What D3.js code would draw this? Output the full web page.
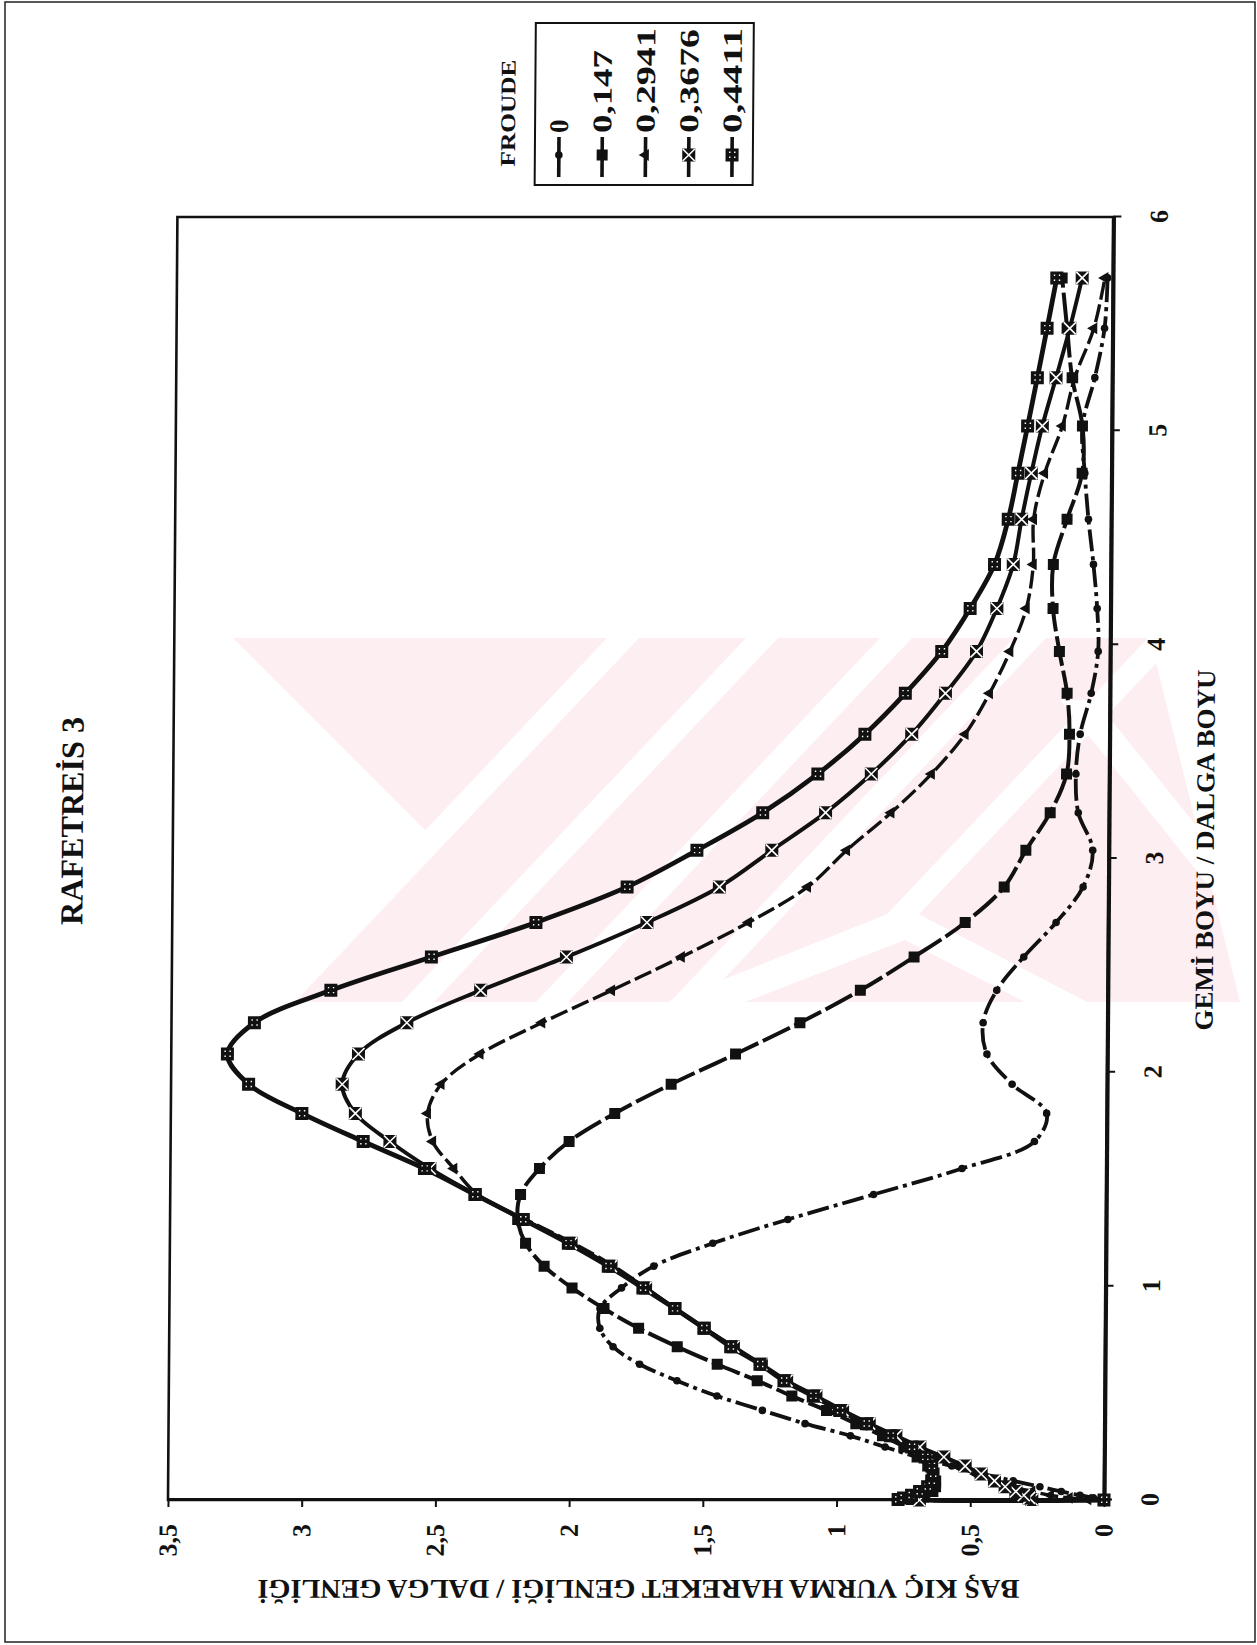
<!DOCTYPE html>
<html>
<head>
<meta charset="utf-8">
<script src="https://cdn.jsdelivr.net/npm/d3@7"></script>
<style>
  body { margin: 0; background: #fff; }
  svg { display: block; }
  text { font-family: "Liberation Serif", "Times New Roman", serif; fill: #111; }
</style>
</head>
<body>
<svg id="chart" width="1257" height="1645"></svg>
<script>

/**
* DATA
*/
// GEMİ BOYU / DALGA BOYU (marker positions)
var lambdaRatio = [0, 0.0025, 0.0099, 0.0223, 0.0397, 0.062, 0.0893, 0.1215, 0.1587, 0.2009,
  0.248, 0.3001, 0.3571, 0.4191, 0.4861, 0.558, 0.6349, 0.7167, 0.8035, 0.8953,
  0.992, 1.0937, 1.2004, 1.312, 1.4286, 1.55, 1.6765, 1.808, 1.9444, 2.0858,
  2.2321, 2.3834, 2.5396, 2.7009, 2.867, 3.0382, 3.2143, 3.3954, 3.5815, 3.7725,
  3.9684, 4.1694, 4.3753, 4.5862, 4.8021, 5.0229, 5.2486, 5.4794, 5.7151];

var froudeLabels = ['0', '0,147', '0,2941', '0,3676', '0,4411'];

// BAŞ KIÇ VURMA HAREKET GENLİĞİ / DALGA GENLİĞİ, one list per Froude number
var amp0 = [0, 0.01, 0.04, 0.09, 0.16, 0.24, 0.34, 0.45, 0.57, 0.70,
  0.82, 0.95, 1.12, 1.28, 1.45, 1.60, 1.74, 1.84, 1.89, 1.89,
  1.81, 1.69, 1.47, 1.19, 0.87, 0.54, 0.27, 0.225, 0.355, 0.45,
  0.465, 0.415, 0.315, 0.195, 0.095, 0.06, 0.115, 0.125, 0.11, 0.07,
  0.045, 0.05, 0.065, 0.085, 0.10, 0.11, 0.065, 0.03, 0.02];

var amp147 = [0, 0.72, 0.70, 0.67, 0.64, 0.63, 0.63, 0.64, 0.66, 0.70,
  0.75, 0.83, 0.93, 1.04, 1.17, 1.30, 1.45, 1.60, 1.745, 1.875,
  1.995, 2.10, 2.17, 2.20, 2.19, 2.12, 2.01, 1.84, 1.63, 1.39,
  1.15, 0.925, 0.725, 0.535, 0.39, 0.31, 0.22, 0.16, 0.15, 0.16,
  0.19, 0.215, 0.215, 0.165, 0.11, 0.11, 0.15, 0.17, 0.19];

var amp2941 = [0, 0.06, 0.13, 0.20, 0.27, 0.34, 0.41, 0.48, 0.55, 0.63,
  0.71, 0.80, 0.90, 0.995, 1.09, 1.19, 1.29, 1.39, 1.50, 1.61,
  1.72, 1.84, 1.99, 2.17, 2.35, 2.44, 2.52, 2.54, 2.49, 2.345,
  2.115, 1.855, 1.595, 1.345, 1.125, 0.98, 0.815, 0.665, 0.54, 0.45,
  0.375, 0.315, 0.29, 0.29, 0.25, 0.185, 0.14, 0.07, 0.03];

var amp3676 = [0.69, 0.27, 0.28, 0.30, 0.33, 0.37, 0.41, 0.46, 0.52, 0.60,
  0.69, 0.78, 0.88, 0.98, 1.08, 1.19, 1.285, 1.39, 1.50, 1.61,
  1.72, 1.85, 2.00, 2.18, 2.36, 2.53, 2.68, 2.81, 2.86, 2.80,
  2.62, 2.345, 2.025, 1.725, 1.455, 1.26, 1.06, 0.89, 0.74, 0.615,
  0.50, 0.425, 0.365, 0.335, 0.30, 0.26, 0.21, 0.16, 0.115];

var amp4411 = [0, 0.77, 0.75, 0.72, 0.69, 0.66, 0.645, 0.64, 0.645, 0.67,
  0.72, 0.80, 0.89, 0.99, 1.09, 1.20, 1.29, 1.40, 1.50, 1.61,
  1.73, 1.86, 2.01, 2.18, 2.36, 2.55, 2.78, 3.01, 3.21, 3.29,
  3.19, 2.905, 2.53, 2.14, 1.80, 1.54, 1.295, 1.09, 0.915, 0.765,
  0.63, 0.525, 0.435, 0.385, 0.35, 0.315, 0.28, 0.245, 0.21];

var xTicks = [0, 1, 2, 3, 4, 5, 6];
var yTicks = [0, 0.5, 1, 1.5, 2, 2.5, 3, 3.5];


/**
* SET UP
*/
var width = 1257;
var height = 1645;
var ink = '#111';
var wmPink = '#fdeef1';

var svg = d3.select('#chart');

// style of each curve (same order as froudeLabels)
var series = [
  { label: froudeLabels[0], values: amp0,    dash: '22,5,4,5', lw: 3.8, marker: 'dot' },
  { label: froudeLabels[1], values: amp147,  dash: '30,5',     lw: 4,   marker: 'square' },
  { label: froudeLabels[2], values: amp2941, dash: '18,5',     lw: 3.4, marker: 'triangle' },
  { label: froudeLabels[3], values: amp3676, dash: null,       lw: 4,   marker: 'cross' },
  { label: froudeLabels[4], values: amp4411, dash: null,       lw: 4.8, marker: 'hatch' }
];


/**
* WATERMARK (pale pink logo behind the chart)
*/
var wmHull = [[233, 638], [1150, 638], [1240, 1002], [293, 1002], [441, 846]];
svg.append('defs').append('clipPath').attr('id', 'wmClip')
  .append('polygon').attr('points', wmHull.join(' '));

var wm = svg.append('g').attr('clip-path', 'url(#wmClip)');
wm.append('rect').attr('x', 200).attr('y', 630).attr('width', 1060).attr('height', 380).attr('fill', wmPink);

// white slanted gaps
[623, 762, 896, 1030, 1164].forEach(function (c) {
  var p = [[c - 16, 638], [c + 16, 638], [c + 16 - 344, 1002], [c - 16 - 344, 1002]];
  wm.append('polygon').attr('points', p.join(' ')).attr('fill', '#fff');
});
// white chevron at the bottom right and one back-slash gap
wm.append('polygon').attr('points', [[667, 1002], [905, 907], [1087, 1002]].join(' ')).attr('fill', '#fff');
wm.append('polygon').attr('points', [[745, 1002], [905, 940], [1025, 1002]].join(' ')).attr('fill', wmPink);
wm.append('polygon').attr('points', [[1060, 700], [1095, 700], [1240, 880], [1240, 925]].join(' ')).attr('fill', '#fff');


/**
* PAGE (scan is slightly sheared, top moved right)
*/
var page = svg.append('g')
  .attr('transform', 'translate(0,1500) skewX(-0.42) translate(0,-1500)');

svg.append('rect')
  .attr('x', 5).attr('y', 2).attr('width', 1250).attr('height', 1640)
  .attr('fill', 'none').attr('stroke', '#222').attr('stroke-width', 1.5);

// whole chart is turned a quarter turn counter clockwise
var g = page.append('g').attr('transform', 'translate(0,' + height + ') rotate(-90)');

var x = d3.scaleLinear().domain([0, 6]).range([145, 1428]);
var y = d3.scaleLinear().domain([0, 3.5]).range([1104, 168]);

// frame
g.append('rect')
  .attr('x', x(0)).attr('y', y(3.5))
  .attr('width', x(6) - x(0)).attr('height', y(0) - y(3.5))
  .attr('fill', 'none').attr('stroke', ink).attr('stroke-width', 2.6);

var xAxis = d3.axisBottom(x).tickValues(xTicks).tickSize(8).tickSizeOuter(0).tickPadding(28)
  .tickFormat(d3.format('d'));
var yAxis = d3.axisLeft(y).tickValues(yTicks).tickSize(7).tickSizeOuter(0).tickPadding(17)
  .tickFormat(function (d) { return String(d).replace('.', ','); });

var gx = g.append('g').attr('transform', 'translate(0,' + y(0) + ')').call(xAxis);
var gy = g.append('g').attr('transform', 'translate(' + x(0) + ',0)').call(yAxis);

gx.select('.domain').attr('stroke', ink).attr('stroke-width', 4.2);
gy.select('.domain').attr('stroke', ink).attr('stroke-width', 3.2);
g.selectAll('.tick line').attr('stroke', ink).attr('stroke-width', 2);
g.selectAll('.tick text')
  .attr('font-size', 26).attr('font-weight', 'bold').attr('fill', ink);


/**
* CURVES
*/
var line = d3.line()
  .x(function (d, i) { return x(lambdaRatio[i]); })
  .y(function (d) { return y(d); })
  .curve(d3.curveCatmullRom.alpha(0.5));

function drawMarker(sel, type) {
  if (type === 'dot') {
    sel.append('circle').attr('r', 3.8).attr('fill', ink);
  } else if (type === 'square') {
    sel.append('rect').attr('x', -5.5).attr('y', -5.5).attr('width', 11).attr('height', 11).attr('fill', ink);
  } else if (type === 'triangle') {
    sel.append('path').attr('d', d3.symbol(d3.symbolTriangle, 60)()).attr('fill', ink);
  } else if (type === 'cross') {
    sel.append('rect').attr('x', -6.5).attr('y', -6.5).attr('width', 13).attr('height', 13).attr('fill', ink);
    sel.append('path').attr('d', 'M-6,-6L6,6M-6,6L6,-6').attr('stroke', '#fff').attr('stroke-width', 1.6);
  } else {
    sel.append('rect').attr('x', -6.5).attr('y', -6.5).attr('width', 13).attr('height', 13).attr('fill', ink);
    [[-3, -3], [2, -3], [-3, 2], [2, 2]].forEach(function (p) {
      sel.append('rect').attr('x', p[0]).attr('y', p[1]).attr('width', 1.4).attr('height', 1.4).attr('fill', '#fff');
    });
  }
}

series.forEach(function (s) {
  g.append('path')
    .datum(s.values)
    .attr('fill', 'none')
    .attr('stroke', ink)
    .attr('stroke-width', s.lw)
    .attr('stroke-dasharray', s.dash)
    .attr('d', line);
});

series.forEach(function (s) {
  g.append('g').selectAll('g')
    .data(s.values)
    .join('g')
    .attr('transform', function (d, i) { return 'translate(' + x(lambdaRatio[i]) + ',' + y(d) + ')'; })
    .each(function () { drawMarker(d3.select(this), s.marker); });
});


/**
* TITLES
*/
g.append('text')
  .attr('x', 824).attr('y', 78)
  .attr('text-anchor', 'middle')
  .attr('font-size', 32).attr('font-weight', 'bold')
  .attr('textLength', 208).attr('lengthAdjust', 'spacingAndGlyphs')
  .text('RAFETREİS 3');

g.append('text')
  .attr('x', 795).attr('y', 1209)
  .attr('text-anchor', 'middle')
  .attr('font-size', 26).attr('font-weight', 'bold')
  .attr('textLength', 361).attr('lengthAdjust', 'spacingAndGlyphs')
  .text('GEMİ BOYU / DALGA BOYU');

g.append('text')
  .attr('transform', 'translate(65,639) rotate(-90)')
  .attr('text-anchor', 'middle')
  .attr('font-size', 27).attr('font-weight', 'bold')
  .attr('textLength', 762).attr('lengthAdjust', 'spacingAndGlyphs')
  .text('BAŞ KIÇ VURMA HAREKET GENLİĞİ / DALGA GENLİĞİ');


/**
* LEGEND
*/
var legend = g.append('g');
legend.append('rect')
  .attr('x', 1460).attr('y', 525).attr('width', 162).attr('height', 218)
  .attr('fill', 'none').attr('stroke', ink).attr('stroke-width', 2);

legend.append('text')
  .attr('x', 1532).attr('y', 505)
  .attr('text-anchor', 'middle')
  .attr('font-size', 21).attr('font-weight', 'bold')
  .attr('textLength', 107).attr('lengthAdjust', 'spacingAndGlyphs')
  .text('FROUDE');

var labelLen = [16, 83, 105, 104, 105];
series.forEach(function (s, i) {
  var cy = 549 + i * 43.3;
  legend.append('line')
    .attr('x1', 1468).attr('x2', 1508).attr('y1', cy).attr('y2', cy)
    .attr('stroke', ink).attr('stroke-width', 3.6);
  drawMarker(legend.append('g').attr('transform', 'translate(1490,' + cy + ')'), s.marker);
  var t = legend.append('text')
    .attr('x', 1512).attr('y', cy + 9)
    .attr('font-size', 27).attr('font-weight', 'bold')
    .text(s.label);
  if (i > 0) t.attr('textLength', labelLen[i]).attr('lengthAdjust', 'spacingAndGlyphs');
});

</script>
</body>
</html>
